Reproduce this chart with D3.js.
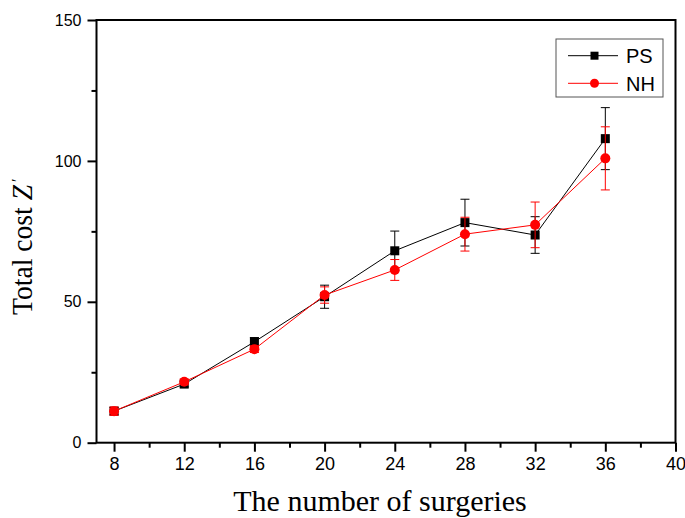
<!DOCTYPE html>
<html>
<head>
<meta charset="utf-8">
<script src="https://cdn.jsdelivr.net/npm/d3@7"></script>
<style>
  body { margin: 0; background: #fff; }
  svg { display: block; }
  .tick text { font-family: Arial, "Liberation Sans", sans-serif; fill: #000; }
</style>
</head>
<body>
<svg id="svg" width="685" height="518"></svg>
<script>
// data
const surgeries = [8, 12, 16, 20, 24, 28, 32, 36];
const psCost = [11.2, 20.8, 35.8, 51.8, 68.1, 78.1, 73.7, 107.9];
const psErr = [1.3, 1.0, 1.5, 4.1, 7.0, 8.3, 6.5, 11.0];
const nhCost = [11.2, 21.6, 33.2, 52.4, 61.3, 74.0, 77.3, 100.9];
const nhErr = [1.5, 1.0, 1.2, 2.9, 3.7, 6.0, 8.1, 11.2];
const xTicks = [8, 12, 16, 20, 24, 28, 32, 36, 40];
const xMinor = [10, 14, 18, 22, 26, 30, 34, 38];
const yTicks = [0, 50, 100, 150];
const yMinor = [25, 75, 125];
const seriesNames = ['PS', 'NH'];

const svg = d3.select('#svg');
const padL = 96.5, padR = 675.5, padT = 20, padB = 442.7;

const x = d3.scaleLinear().domain([7, 40]).range([padL, padR]);
const y = d3.scaleLinear().domain([0, 150]).range([padB, padT]);

// frame
svg.append('rect')
   .attr('x', padL).attr('y', padT)
   .attr('width', padR - padL).attr('height', padB - padT)
   .attr('fill', 'none').attr('stroke', '#000').attr('stroke-width', 2);

// x axis
const gx = svg.append('g').attr('transform', `translate(0,${padB})`);
gx.call(d3.axisBottom(x).tickValues(xTicks).tickSize(9).tickPadding(6).tickFormat(d3.format('d')));
gx.append('g').call(d3.axisBottom(x).tickValues(xMinor).tickSize(5).tickFormat(''));
gx.selectAll('.domain').remove();
gx.selectAll('line').attr('stroke', '#000').attr('stroke-width', 2);
gx.selectAll('.tick text').style('font-size', '18px');

// y axis
const gy = svg.append('g').attr('transform', `translate(${padL},0)`);
gy.call(d3.axisLeft(y).tickValues(yTicks).tickSize(9).tickPadding(6));
gy.append('g').call(d3.axisLeft(y).tickValues(yMinor).tickSize(5).tickFormat(''));
gy.selectAll('.domain').remove();
gy.selectAll('line').attr('stroke', '#000').attr('stroke-width', 2);
gy.selectAll('.tick text').style('font-size', '16px');

// axis titles
svg.append('text')
   .attr('x', 380).attr('y', 511)
   .attr('text-anchor', 'middle')
   .style('font-family', '"Liberation Serif", "Times New Roman", serif')
   .style('font-size', '30px')
   .text('The number of surgeries');

const yl = svg.append('text')
   .attr('transform', 'translate(32,315) rotate(-90)')
   .style('font-family', '"Liberation Serif", "Times New Roman", serif')
   .style('font-size', '29px')
   .attr('textLength', 130).attr('lengthAdjust', 'spacingAndGlyphs');
yl.append('tspan').text('Total cost ');
yl.append('tspan').style('font-style', 'italic').text('Z');
svg.append('text')
   .attr('transform', 'translate(23,182) rotate(-90)')
   .style('font-family', '"Liberation Serif", "Times New Roman", serif')
   .style('font-size', '16px')
   .text('\u2032');

const series = [
  { name: seriesNames[0], vals: psCost, errs: psErr, color: '#000', shape: 'square' },
  { name: seriesNames[1], vals: nhCost, errs: nhErr, color: '#ff0000', shape: 'circle' }
];

const line = d3.line().x(d => x(d[0])).y(d => y(d[1]));
const cap = 4.5;

series.forEach(s => {
  const pts = surgeries.map((v, i) => [v, s.vals[i], s.errs[i]]);
  const g = svg.append('g');
  // error bars
  pts.forEach(p => {
    const cx = x(p[0]), y1 = y(p[1] + p[2]), y2 = y(p[1] - p[2]);
    g.append('line').attr('x1', cx).attr('x2', cx).attr('y1', y1).attr('y2', y2)
     .attr('stroke', s.color).attr('stroke-width', 1);
    [y1, y2].forEach(yy => g.append('line')
      .attr('x1', cx - cap).attr('x2', cx + cap).attr('y1', yy).attr('y2', yy)
      .attr('stroke', s.color).attr('stroke-width', 1));
  });
  g.append('path').datum(pts).attr('d', line)
   .attr('fill', 'none').attr('stroke', s.color).attr('stroke-width', 1);
  if (s.shape === 'square') {
    g.selectAll('rect').data(pts).join('rect')
     .attr('x', d => x(d[0]) - 4.5).attr('y', d => y(d[1]) - 4.5)
     .attr('width', 9).attr('height', 9).attr('fill', s.color);
  } else {
    g.selectAll('circle').data(pts).join('circle')
     .attr('cx', d => x(d[0])).attr('cy', d => y(d[1])).attr('r', 5)
     .attr('fill', s.color);
  }
});

// legend
const lg = svg.append('g');
lg.append('rect').attr('x', 556).attr('y', 39).attr('width', 107).attr('height', 58)
  .attr('fill', '#fff').attr('stroke', '#555').attr('stroke-width', 1);
series.forEach((s, i) => {
  const ly = 55.7 + i * 27.6;
  lg.append('line').attr('x1', 568).attr('x2', 618).attr('y1', ly).attr('y2', ly)
    .attr('stroke', s.color).attr('stroke-width', 1);
  if (s.shape === 'square') {
    lg.append('rect').attr('x', 590.5).attr('y', ly - 4).attr('width', 8).attr('height', 8).attr('fill', s.color);
  } else {
    lg.append('circle').attr('cx', 594.5).attr('cy', ly).attr('r', 4.5).attr('fill', s.color);
  }
  lg.append('text').attr('x', 626).attr('y', ly + 7.5)
    .style('font-family', 'Arial, "Liberation Sans", sans-serif').style('font-size', '20px')
    .text(s.name);
});
</script>
</body>
</html>
